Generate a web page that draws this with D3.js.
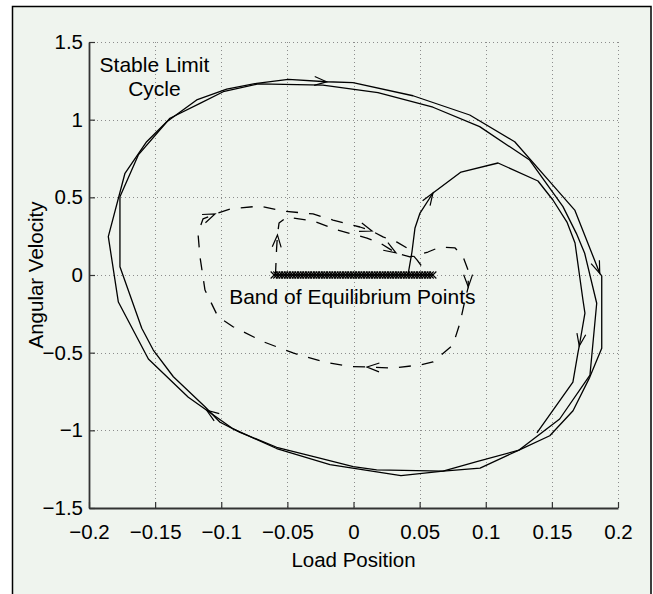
<!DOCTYPE html>
<html>
<head>
<meta charset="utf-8">
<script src="https://cdn.jsdelivr.net/npm/d3@7"></script>
<style>
  html, body { margin: 0; padding: 0; background: #ffffff; }
  svg { display: block; }
  text { font-family: "Liberation Sans", Arial, Helvetica, sans-serif; fill: #000; }
</style>
</head>
<body>
<svg id="chart" width="653" height="594"></svg>
<script>
// ---- axis ticks ----
const xTicks = [-0.2, -0.15, -0.1, -0.05, 0, 0.05, 0.1, 0.15, 0.2];
const xTickLabels = ["\u22120.2", "\u22120.15", "\u22120.1", "\u22120.05", "0", "0.05", "0.1", "0.15", "0.2"];
const yTicks = [-1.5, -1, -0.5, 0, 0.5, 1, 1.5];
const yTickLabels = ["\u22121.5", "\u22121", "\u22120.5", "0", "0.5", "1", "1.5"];

// ---- trajectory leaving the edge of the equilibrium band (solid) ----
const escapePath = [
  [0.0412, 0.000], [0.0442, 0.148], [0.0465, 0.303], [0.0503, 0.399], [0.0601, 0.528],
  [0.0813, 0.663], [0.1093, 0.721], [0.1395, 0.605], [0.1508, 0.483], [0.1614, 0.341],
  [0.1675, 0.206], [0.1735, -0.161], [0.1750, -0.245], [0.1707, -0.457], [0.1697, -0.502],
  [0.1659, -0.689], [0.1387, -1.017]
];

// ---- stable limit cycle, two passes (solid) ----
const cycleOuter = [
  [-0.0178, -1.221], [-0.0581, -1.117], [-0.0909, -0.991], [-0.1110, -0.871], [-0.1249, -0.787],
  [-0.1551, -0.541], [-0.1778, -0.174], [-0.1854, 0.247], [-0.1728, 0.655], [-0.1564, 0.858],
  [-0.1412, 0.987], [-0.1186, 1.127], [-0.0959, 1.196], [-0.0732, 1.234], [-0.0493, 1.260],
  [-0.0203, 1.244], [-0.0004, 1.238], [0.0450, 1.154], [0.0879, 1.030], [0.1219, 0.858],
  [0.1484, 0.601], [0.1673, 0.418], [0.1862, 0.011], [0.1877, -0.006], [0.1877, -0.472],
  [0.1786, -0.659], [0.1660, -0.874], [0.1484, -1.035], [0.1251, -1.127], [0.0957, -1.243],
  [0.0677, -1.262], [0.0359, -1.291], [-0.0178, -1.221]
];
const cycleInner = [
  [-0.0002, -1.234], [-0.0278, -1.174], [-0.0581, -1.109], [-0.0858, -1.013], [-0.1009, -0.948],
  [-0.1123, -0.848], [-0.1362, -0.655], [-0.1514, -0.483], [-0.1601, -0.343], [-0.1766, 0.053],
  [-0.1766, 0.504], [-0.1627, 0.773], [-0.1388, 1.009], [-0.1161, 1.105], [-0.0985, 1.180],
  [-0.0720, 1.230], [-0.0231, 1.223], [0.0185, 1.174], [0.0601, 1.080], [0.0954, 0.955],
  [0.1332, 0.740], [0.1584, 0.440], [0.1685, 0.268], [0.1748, 0.140], [0.1839, -0.182],
  [0.1788, -0.644], [0.1559, -0.927], [0.1252, -1.127], [0.0932, -1.202], [0.0677, -1.262],
  [0.0175, -1.255], [-0.0002, -1.234]
];

// ---- trajectory settling into the band (dashed) ----
const settlePath = [
  [-0.0590, 0.000], [-0.0582, 0.161], [-0.0575, 0.258], [-0.0563, 0.335], [-0.0503, 0.373],
  [-0.0306, 0.348], [-0.0125, 0.290], [0.0102, 0.238], [0.0200, 0.206], [0.0321, 0.142],
  [0.0427, 0.116], [0.0563, 0.148], [0.0654, 0.180], [0.0768, 0.174], [0.0828, 0.118],
  [0.0866, 0.032], [0.0868, -0.077], [0.0843, -0.161], [0.0805, -0.309], [0.0752, -0.451],
  [0.0601, -0.560], [0.0503, -0.579], [0.0299, -0.599], [0.0102, -0.592], [-0.0026, -0.590],
  [-0.0231, -0.558], [-0.0457, -0.502], [-0.0684, -0.429], [-0.0911, -0.333], [-0.1025, -0.268],
  [-0.1123, -0.097], [-0.1161, 0.118], [-0.1176, 0.270], [-0.1138, 0.361], [-0.1047, 0.393],
  [-0.0934, 0.425], [-0.0707, 0.444], [-0.0533, 0.412], [-0.0306, 0.393], [-0.0155, 0.354],
  [0.0049, 0.309], [0.0140, 0.283], [0.0223, 0.245], [0.0329, 0.212], [0.0404, 0.174],
  [0.0480, 0.097], [0.0526, 0.045], [0.0533, 0.000]
];

// ---- equilibrium band (zero velocity) ----
const bandX = [
  -0.060, -0.058, -0.056, -0.054, -0.052, -0.050, -0.048, -0.046, -0.044, -0.042,
  -0.040, -0.038, -0.036, -0.034, -0.032, -0.030, -0.028, -0.026, -0.024, -0.022,
  -0.020, -0.018, -0.016, -0.014, -0.012, -0.010, -0.008, -0.006, -0.004, -0.002,
  0.000, 0.002, 0.004, 0.006, 0.008, 0.010, 0.012, 0.014, 0.016, 0.018,
  0.020, 0.022, 0.024, 0.026, 0.028, 0.030, 0.032, 0.034, 0.036, 0.038,
  0.040, 0.042, 0.044, 0.046, 0.048, 0.050, 0.052, 0.054, 0.056, 0.058, 0.060
];

// ---- direction arrows: tip sits on the nearest vertex of the named series ----
const arrowMarks = [
  { series: "escape", at: [0.0601, 0.528] },
  { series: "escape", at: [0.1707, -0.457] },
  { series: "outer", at: [-0.0203, 1.244] },
  { series: "outer", at: [0.1862, 0.011] },
  { series: "outer", at: [-0.1110, -0.871] },
  { series: "settle", at: [-0.0575, 0.258] },
  { series: "settle", at: [0.0321, 0.142] },
  { series: "settle", at: [0.0868, -0.077] },
  { series: "settle", at: [0.0102, -0.592] },
  { series: "settle", at: [-0.1047, 0.393] },
  { series: "settle", at: [0.0140, 0.283] }
];

const annotations = [
  { lines: ["Stable Limit", "Cycle"], at: [-0.1505, 1.31], anchor: "middle" },
  { lines: ["Band of Equilibrium Points"], at: [-0.0940, -0.185], anchor: "start" }
];

// ---------------- drawing ----------------
const plot = { left: 89, right: 618, top: 42, bottom: 508 };
const svg = d3.select("#chart");

// figure background and frame
svg.append("rect")
  .attr("x", 12.5).attr("y", 6.5).attr("width", 638.5).attr("height", 620)
  .attr("fill", "#eff4ee").attr("stroke", "#000").attr("stroke-width", 1.5);

const x = d3.scaleLinear().domain([-0.2, 0.2]).range([plot.left, plot.right]);
const y = d3.scaleLinear().domain([-1.5, 1.5]).range([plot.bottom, plot.top]);

// dotted grid
const grid = svg.append("g").attr("stroke", "#8c8c8c").attr("stroke-width", 1)
  .attr("stroke-dasharray", "1,3").attr("shape-rendering", "crispEdges");
grid.selectAll("line.v").data(xTicks).join("line").attr("class", "v")
  .attr("x1", d => Math.round(x(d)) + 0.5).attr("x2", d => Math.round(x(d)) + 0.5)
  .attr("y1", plot.top).attr("y2", plot.bottom);
grid.selectAll("line.h").data(yTicks).join("line").attr("class", "h")
  .attr("y1", d => Math.round(y(d)) + 0.5).attr("y2", d => Math.round(y(d)) + 0.5)
  .attr("x1", plot.left).attr("x2", plot.right);

// axes (left and bottom only, ticks pointing inward)
const xAxis = d3.axisBottom(x).tickValues(xTicks)
  .tickFormat((d, i) => xTickLabels[i]).tickSizeInner(-6).tickSizeOuter(0).tickPadding(16);
const yAxis = d3.axisLeft(y).tickValues(yTicks)
  .tickFormat((d, i) => yTickLabels[i]).tickSizeInner(-6).tickSizeOuter(0).tickPadding(6);

const gx = svg.append("g").attr("transform", `translate(0,${plot.bottom})`).call(xAxis);
const gy = svg.append("g").attr("transform", `translate(${plot.left},0)`).call(yAxis);
[gx, gy].forEach(g => {
  g.select(".domain").attr("stroke", "#333").attr("stroke-width", 1.8);
  g.selectAll(".tick line").attr("stroke", "#333").attr("stroke-width", 1.2);
  g.selectAll(".tick text").attr("font-size", 20.5)
    .attr("font-family", "'Liberation Sans', Arial, Helvetica, sans-serif").attr("fill", "#000");
});

// axis titles
svg.append("text").attr("x", (plot.left + plot.right) / 2).attr("y", 567)
  .attr("text-anchor", "middle").attr("font-size", 20.5).text("Load Position");
svg.append("text").attr("transform", `translate(43,${(plot.top + plot.bottom) / 2}) rotate(-90)`)
  .attr("text-anchor", "middle").attr("font-size", 20.5).text("Angular Velocity");

// trajectories
const line = d3.line().x(d => x(d[0])).y(d => y(d[1]));
const seriesMap = { escape: escapePath, outer: cycleOuter, inner: cycleInner, settle: settlePath };

const curves = svg.append("g").attr("fill", "none").attr("stroke", "#000")
  .attr("stroke-linejoin", "round").attr("stroke-width", 1.3);
curves.append("path").attr("d", line(cycleOuter));
curves.append("path").attr("d", line(cycleInner));
curves.append("path").attr("d", line(escapePath));
curves.append("path").attr("d", line(settlePath)).attr("stroke-dasharray", "12,11");

// equilibrium band drawn as a row of x markers on the zero-velocity line
const band = svg.append("g").attr("stroke", "#000").attr("stroke-width", 1.1);
band.append("line")
  .attr("x1", x(bandX[0])).attr("x2", x(bandX[bandX.length - 1]))
  .attr("y1", y(0)).attr("y2", y(0)).attr("stroke-width", 1.5);
const m = 3.5;
band.selectAll("path.mk").data(bandX).join("path").attr("class", "mk")
  .attr("d", d => {
    const cx = x(d), cy = y(0);
    return `M${cx - m},${cy - m}L${cx + m},${cy + m}M${cx - m},${cy + m}L${cx + m},${cy - m}`;
  });

// open arrowheads
const arrowLen = 13, arrowHalf = 20 * Math.PI / 180;
const arrows = svg.append("g").attr("fill", "none").attr("stroke", "#000").attr("stroke-width", 1.2);
arrowMarks.forEach(a => {
  const pts = seriesMap[a.series].map(p => [x(p[0]), y(p[1])]);
  const tx = x(a.at[0]), ty = y(a.at[1]);
  let best = 1, bd = Infinity;
  pts.forEach((p, i) => {
    if (i === 0) return;
    const dd = (p[0] - tx) ** 2 + (p[1] - ty) ** 2;
    if (dd < bd) { bd = dd; best = i; }
  });
  const tip = pts[best], prev = pts[best - 1];
  const ang = Math.atan2(tip[1] - prev[1], tip[0] - prev[0]);
  const b1 = [tip[0] - arrowLen * Math.cos(ang - arrowHalf), tip[1] - arrowLen * Math.sin(ang - arrowHalf)];
  const b2 = [tip[0] - arrowLen * Math.cos(ang + arrowHalf), tip[1] - arrowLen * Math.sin(ang + arrowHalf)];
  arrows.append("path").attr("d", `M${b1[0]},${b1[1]}L${tip[0]},${tip[1]}L${b2[0]},${b2[1]}`);
});

// annotations
annotations.forEach(a => {
  const t = svg.append("text").attr("text-anchor", a.anchor).attr("font-size", 21)
    .attr("x", x(a.at[0])).attr("y", y(a.at[1]));
  a.lines.forEach((s, i) => {
    t.append("tspan").attr("x", x(a.at[0])).attr("dy", i === 0 ? 0 : 24).text(s);
  });
});
</script>
</body>
</html>
